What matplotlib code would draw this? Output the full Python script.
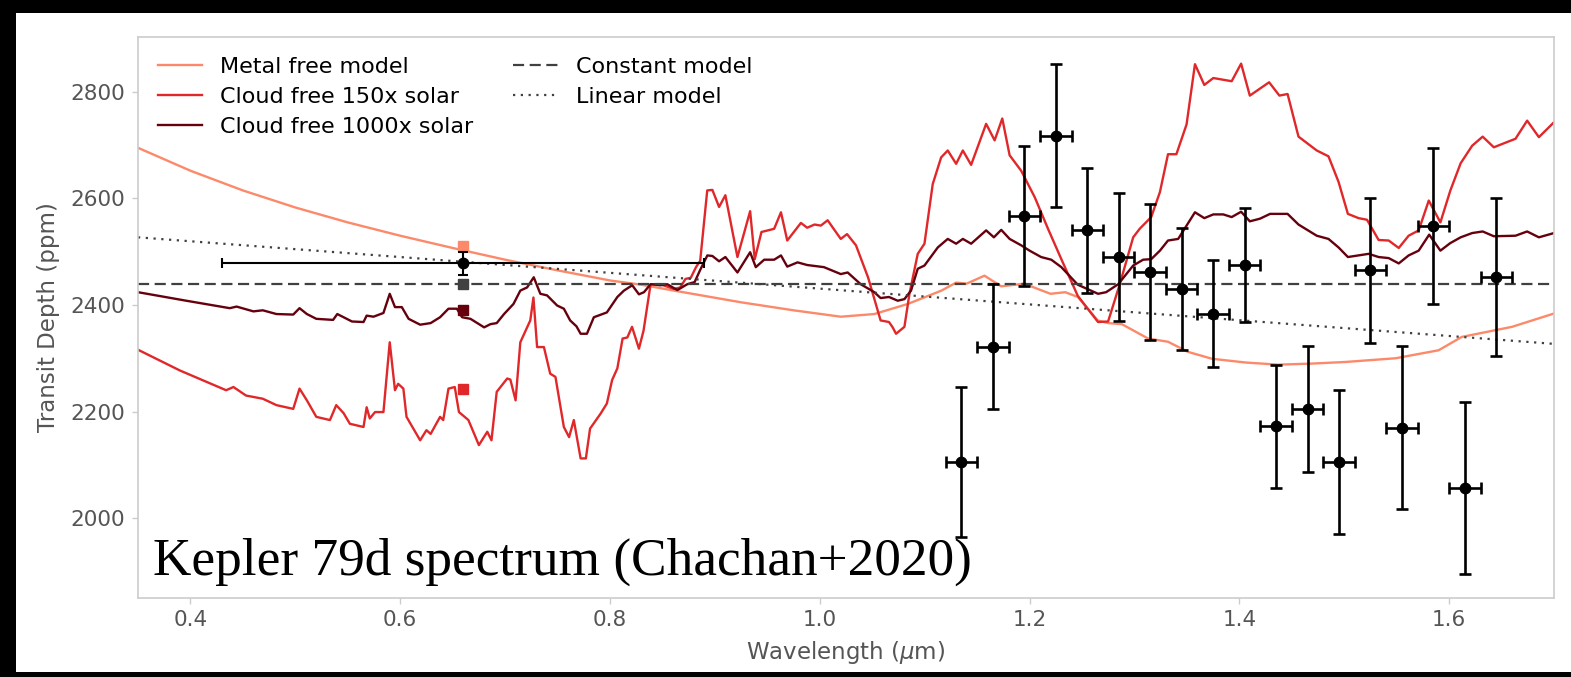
import matplotlib
matplotlib.use("Agg")
import matplotlib.pyplot as plt
import numpy as np

# ---------------- data ----------------
# HST WFC3 spectrum
hst_wl = [1.135, 1.165, 1.195, 1.225, 1.255, 1.285, 1.315, 1.345, 1.375,
          1.405, 1.435, 1.465, 1.495, 1.525, 1.555, 1.585, 1.615, 1.645]
hst_depth = [2105, 2322, 2567, 2718, 2540, 2490, 2462, 2430, 2384,
             2475, 2172, 2205, 2105, 2465, 2170, 2548, 2056, 2452]
hst_err = [141, 118, 131, 135, 117, 120, 128, 114, 101,
           107, 116, 118, 135, 136, 153, 147, 161, 148]
hst_wl_err = 0.015

# Kepler band point
kepler_wl = 0.66
kepler_wl_err = 0.23
kepler_depth = 2478
kepler_err = 22

# band-integrated model values in Kepler band
band_metal_free = 2511
band_constant = 2440
band_c1000 = 2390
band_c150 = 2243

# constant and linear models
constant_depth = 2440
linear_wl = [0.35, 1.70]
linear_depth = [2527, 2327]

# Metal free model
metal_wl = [0.350, 0.400, 0.450, 0.500, 0.550, 0.600, 0.650, 0.700, 0.750, 0.800,
            0.830, 0.861, 0.925, 0.975, 1.020,
            1.052, 1.084, 1.116, 1.130, 1.140, 1.157, 1.173, 1.195, 1.208, 1.220,
            1.234, 1.246, 1.265, 1.275, 1.288, 1.313, 1.332, 1.351, 1.374, 1.406,
            1.437, 1.469, 1.501, 1.549, 1.590, 1.612, 1.660, 1.700]
metal_depth = [2695, 2652, 2615, 2583, 2555, 2530, 2507, 2485, 2465, 2446,
               2438, 2427, 2405, 2390, 2378,
               2383, 2402, 2427, 2442, 2440, 2455, 2435, 2440, 2430, 2421,
               2424, 2415, 2371, 2366, 2364, 2337, 2331, 2312, 2299, 2292,
               2288, 2290, 2293, 2300, 2315, 2340, 2359, 2384]

# Cloud free 150x solar
c150_wl = [0.350, 0.390, 0.434, 0.441, 0.453, 0.469, 0.482, 0.498, 0.504, 0.511,
           0.520, 0.533, 0.539, 0.546, 0.552, 0.565, 0.568, 0.571, 0.576, 0.584,
           0.590, 0.595, 0.598, 0.603, 0.606, 0.619, 0.625, 0.629, 0.638, 0.641,
           0.646, 0.652, 0.656, 0.665, 0.675, 0.683, 0.687, 0.692, 0.702, 0.705,
           0.710, 0.7145, 0.724, 0.727, 0.7305, 0.737, 0.743, 0.748, 0.756, 0.761,
           0.7655, 0.772, 0.777, 0.781, 0.791, 0.797, 0.802, 0.807, 0.812, 0.8165,
           0.821, 0.8276, 0.832, 0.8387, 0.848, 0.861, 0.867, 0.872, 0.877, 0.882,
           0.886, 0.8927, 0.8976, 0.904, 0.910, 0.9215, 0.9336, 0.938, 0.9444, 0.9565,
           0.963, 0.969, 0.982, 0.988, 0.995, 1.001, 1.0075, 1.020, 1.026, 1.0345,
           1.046, 1.058, 1.066, 1.0695, 1.0727, 1.0807, 1.0855, 1.0934, 1.0998, 1.1077,
           1.1157, 1.122, 1.130, 1.1364, 1.1443, 1.1586, 1.1667, 1.174, 1.181, 1.192,
           1.205, 1.2176, 1.2303, 1.246, 1.2653, 1.2749, 1.286, 1.2988, 1.305, 1.316,
           1.3243, 1.332, 1.340, 1.3497, 1.3577, 1.3666, 1.3752, 1.3927, 1.4017, 1.410,
           1.4284, 1.4382, 1.446, 1.4564, 1.4738, 1.485, 1.4946, 1.5035, 1.5137, 1.5217,
           1.5328, 1.5424, 1.552, 1.5614, 1.571, 1.5806, 1.5917, 1.6012, 1.611, 1.622,
           1.632, 1.6426, 1.6633, 1.6744, 1.6856, 1.700]
c150_depth = [2316, 2277, 2240, 2246, 2230, 2224, 2212, 2205, 2243, 2221,
              2190, 2184, 2212, 2197, 2177, 2171, 2208, 2187, 2199, 2199,
              2330, 2240, 2252, 2243, 2190, 2146, 2165, 2158, 2190, 2184,
              2243, 2246, 2199, 2184, 2137, 2162, 2146, 2237, 2262, 2260,
              2221, 2330, 2371, 2414, 2321, 2321, 2271, 2265, 2171, 2152,
              2184, 2112, 2112, 2168, 2196, 2215, 2259, 2281, 2337, 2339,
              2359, 2318, 2352, 2439, 2439, 2430, 2433, 2449, 2451, 2471,
              2483, 2615, 2616, 2584, 2606, 2490, 2576, 2486, 2537, 2543,
              2574, 2521, 2554, 2545, 2551, 2549, 2559, 2524, 2533, 2512,
              2452, 2371, 2368, 2358, 2346, 2359, 2421, 2496, 2515, 2627,
              2677, 2690, 2665, 2690, 2663, 2740, 2709, 2750, 2681, 2652,
              2602, 2543, 2486, 2417, 2368, 2369, 2439, 2527, 2543, 2565,
              2612, 2683, 2683, 2739, 2852, 2813, 2826, 2820, 2853, 2793,
              2818, 2793, 2796, 2716, 2690, 2679, 2631, 2571, 2563, 2560,
              2522, 2521, 2507, 2530, 2540, 2596, 2555, 2615, 2666, 2699,
              2716, 2696, 2712, 2746, 2715, 2743]

# Cloud free 1000x solar
c1000_wl = [0.350, 0.396, 0.4375, 0.444, 0.460, 0.469, 0.482, 0.498, 0.504, 0.511,
            0.520, 0.536, 0.540, 0.546, 0.554, 0.565, 0.568, 0.5745, 0.584, 0.590,
            0.595, 0.6015, 0.608, 0.619, 0.629, 0.638, 0.646, 0.654, 0.659, 0.667,
            0.680, 0.686, 0.692, 0.699, 0.708, 0.7145, 0.721, 0.7273, 0.7336, 0.740,
            0.7496, 0.756, 0.762, 0.768, 0.772, 0.778, 0.7846, 0.797, 0.807, 0.8133,
            0.8212, 0.8276, 0.8324, 0.8387, 0.8482, 0.8546, 0.8642, 0.8737, 0.8807, 0.8858,
            0.8928, 0.8976, 0.904, 0.910, 0.9215, 0.9336, 0.939, 0.947, 0.9565, 0.963,
            0.969, 0.9788, 0.988, 1.004, 1.020, 1.0266, 1.039, 1.052, 1.058, 1.066,
            1.0743, 1.0807, 1.087, 1.0934, 1.0998, 1.1125, 1.122, 1.130, 1.1364, 1.1443,
            1.1586, 1.166, 1.173, 1.181, 1.192, 1.200, 1.211, 1.2207, 1.2303, 1.246,
            1.2653, 1.273, 1.2845, 1.2988, 1.3083, 1.316, 1.3243, 1.332, 1.3417, 1.3497,
            1.3577, 1.3666, 1.3752, 1.3847, 1.3927, 1.4017, 1.410, 1.4197, 1.4293, 1.446,
            1.4564, 1.4738, 1.485, 1.4946, 1.5035, 1.5137, 1.5233, 1.5328, 1.5424, 1.552,
            1.5614, 1.571, 1.581, 1.5917, 1.601, 1.611, 1.622, 1.632, 1.6426, 1.6633,
            1.6744, 1.6856, 1.700]
c1000_depth = [2424, 2408, 2394, 2397, 2388, 2390, 2383, 2382, 2394, 2383,
               2374, 2372, 2383, 2377, 2369, 2368, 2380, 2378, 2385, 2421,
               2396, 2396, 2374, 2363, 2366, 2377, 2393, 2393, 2377, 2374,
               2358, 2364, 2366, 2383, 2402, 2427, 2433, 2452, 2421, 2418,
               2399, 2393, 2371, 2360, 2346, 2346, 2377, 2386, 2415, 2427,
               2437, 2420, 2424, 2439, 2437, 2439, 2428, 2439, 2443, 2465,
               2493, 2492, 2482, 2490, 2461, 2499, 2471, 2485, 2485, 2493,
               2472, 2480, 2475, 2471, 2458, 2461, 2439, 2424, 2413, 2415,
               2408, 2411, 2427, 2468, 2474, 2508, 2524, 2515, 2524, 2515,
               2540, 2527, 2541, 2524, 2512, 2502, 2490, 2485, 2471, 2438,
               2421, 2424, 2439, 2474, 2485, 2486, 2502, 2521, 2524, 2549,
               2574, 2563, 2570, 2570, 2565, 2575, 2557, 2562, 2571, 2571,
               2551, 2530, 2524, 2508, 2490, 2493, 2496, 2490, 2488, 2478,
               2493, 2502, 2532, 2502, 2516, 2527, 2535, 2538, 2529, 2530,
               2538, 2527, 2535]

x_ticks = [0.4, 0.6, 0.8, 1.0, 1.2, 1.4, 1.6]
y_ticks = [2000, 2200, 2400, 2600, 2800]

# ---------------- styling ----------------
c_metal = '#fc8a6a'
c_150 = '#e0282a'
c_1000 = '#67000d'
c_const = '#404040'
spine_c = '#cccccc'
label_c = '#555555'

W, H = 1571, 677
fig = plt.figure(figsize=(W / 100, H / 100), dpi=100, facecolor='black')
bg = fig.add_axes([16 / W, 5 / H, 1 - 16 / W, (672 - 13) / H], zorder=-10)
bg.set_facecolor('white')
bg.set_xticks([])
bg.set_yticks([])
for s in bg.spines.values():
    s.set_visible(False)

ax = fig.add_axes([138 / W, (H - 598) / H, (1554 - 138) / W, (598 - 37) / H], zorder=1)
ax.set_facecolor('white')

lw = 1.7
ax.plot(metal_wl, metal_depth, color=c_metal, lw=lw, label='Metal free model', zorder=2)
ax.plot(c150_wl, c150_depth, color=c_150, lw=lw, label='Cloud free 150x solar', zorder=2)
ax.plot(c1000_wl, c1000_depth, color=c_1000, lw=lw, label='Cloud free 1000x solar', zorder=2)
ax.axhline(constant_depth, color=c_const, lw=1.6, ls=(0, (5, 2.5)), label='Constant model', zorder=2)
ax.plot(linear_wl, linear_depth, color=c_const, lw=1.6, ls=(0, (1, 2.5)), label='Linear model', zorder=2)

# band-integrated squares
sq = dict(marker='s', ms=7, ls='none', zorder=3)
ax.plot([kepler_wl], [band_metal_free], color=c_metal, **sq)
ax.plot([kepler_wl], [band_constant], color=c_const, **sq)
ax.plot([kepler_wl], [band_c1000], color=c_1000, **sq)
ax.plot([kepler_wl], [band_c150], color=c_150, **sq)

# data
ax.errorbar([kepler_wl], [kepler_depth], xerr=[kepler_wl_err], yerr=[kepler_err],
            fmt='o', color='black', ms=7.5, elinewidth=1.5, capsize=3.5, capthick=1.5, zorder=4)
ax.errorbar(hst_wl, hst_depth, xerr=hst_wl_err, yerr=hst_err,
            fmt='o', color='black', ms=7.5, elinewidth=1.9, capsize=4.2, capthick=1.9, zorder=4)

ax.set_xlim(0.35, 1.70)
ax.set_ylim(1850, 2903)
ax.set_xticks(x_ticks)
ax.set_xticklabels([f'{t:.1f}' for t in x_ticks])
ax.set_yticks(y_ticks)
ax.set_yticklabels([str(t) for t in y_ticks])

for s in ax.spines.values():
    s.set_color(spine_c)
    s.set_linewidth(1.2)
ax.tick_params(direction='out', length=4, width=1, color=spine_c,
               labelcolor=label_c, labelsize=15.5, pad=5)

ax.set_xlabel('Wavelength ($\\mu$m)', fontsize=16.5, color=label_c, labelpad=6)
ax.set_ylabel('Transit Depth (ppm)', fontsize=16.5, color=label_c, labelpad=8)

ax.legend(loc='upper left', ncol=2, frameon=False, fontsize=16,
          handlelength=2.0, columnspacing=1.8, labelspacing=0.45)

ax.text(15 / 1416, 23 / 561, 'Kepler 79d spectrum (Chachan+2020)', transform=ax.transAxes,
        fontsize=38.3, family='Liberation Serif', color='black', va='baseline', ha='left',
        zorder=5)

fig.savefig('out.png', dpi=100, facecolor='black')
